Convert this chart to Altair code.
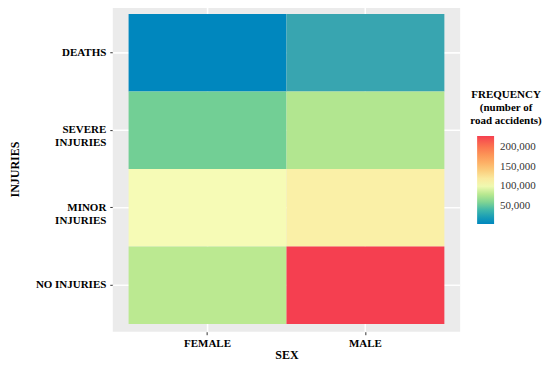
import altair as alt
import pandas as pd

sex = ["FEMALE", "MALE", "FEMALE", "MALE", "FEMALE", "MALE", "FEMALE", "MALE"]
injuries = ["DEATHS", "DEATHS", "SEVERE INJURIES", "SEVERE INJURIES",
            "MINOR INJURIES", "MINOR INJURIES", "NO INJURIES", "NO INJURIES"]
frequency = [5000, 30000, 55000, 78000, 103000, 115000, 81000, 227000]

sex_order = ["FEMALE", "MALE"]
inj_order = ["DEATHS", "SEVERE INJURIES", "MINOR INJURIES", "NO INJURIES"]
legend_ticks = [50000, 100000, 150000, 200000]

color_stops = [5000, 30000, 55000, 80000, 105000, 150000, 227000]
color_range = ["#0087BE", "#38A5B0", "#72CF95", "#B8E890", "#FBFDBA", "#FDBE70", "#F53F50"]

df = pd.DataFrame({"SEX": sex, "INJURIES": injuries, "FREQ": frequency})

FONT = "Liberation Serif"

xscale = alt.Scale(paddingInner=0, paddingOuter=0.1)
yscale = alt.Scale(paddingInner=0, paddingOuter=0.1)

base = alt.Chart(df)

vgrid = base.mark_rule(color="white", strokeWidth=1.2).encode(
    x=alt.X("SEX:N", sort=sex_order, scale=xscale)
)
hgrid = base.mark_rule(color="white", strokeWidth=1.2).encode(
    y=alt.Y("INJURIES:N", sort=inj_order, scale=yscale)
)

tiles = base.mark_rect().encode(
    x=alt.X("SEX:N", sort=sex_order, scale=xscale,
            axis=alt.Axis(title="SEX", labelAngle=0, labelAlign="center", bandPosition=0.5,
                          grid=False, domain=False, tickColor="#333333", tickSize=3,
                          labelPadding=3, labelBaseline="top",
                          labelFont=FONT, labelFontWeight="bold", labelFontSize=11,
                          labelColor="black", titleFont=FONT, titleFontWeight="bold",
                          titleFontSize=12, titleColor="black", titlePadding=1)),
    y=alt.Y("INJURIES:N", sort=inj_order, scale=yscale,
            axis=alt.Axis(title="INJURIES", bandPosition=0.5, grid=False,
                          domain=False, tickColor="#333333", tickSize=3, labelPadding=4,
                          labelExpr="datum.label == 'NO INJURIES' ? datum.label : split(datum.label, ' ')",
                          labelLineHeight=13,
                          labelFont=FONT, labelFontWeight="bold", labelFontSize=11,
                          labelColor="black", titleFont=FONT, titleFontWeight="bold",
                          titleFontSize=12, titleColor="black", titlePadding=14)),
    color=alt.Color("FREQ:Q",
                    scale=alt.Scale(domain=color_stops, range=color_range),
                    legend=alt.Legend(title=["FREQUENCY", "(number of", "road accidents)"],
                                      titleFont=FONT, titleFontWeight="bold", titleFontSize=11,
                                      titleColor="black", titleAlign="center",
                                      titleAnchor="middle", titleLineHeight=13,
                                      values=legend_ticks,
                                      labelExpr="format(datum.value, ',')",
                                      labelFont=FONT, labelFontSize=11, labelColor="#333333",
                                      labelOffset=6, padding=0,
                                      gradientLength=88, gradientThickness=17,
                                      orient="none", legendX=358, legendY=83,
                                      titlePadding=10)),
)

chart = alt.layer(vgrid, hgrid, tiles).properties(
    width=348, height=326,
    padding={"left": 0, "top": -3, "right": 0, "bottom": 0},
).configure_view(
    fill="#EBEBEB", stroke=None
)

chart.save("out.html", embed_options={"renderer": "svg", "actions": False})
